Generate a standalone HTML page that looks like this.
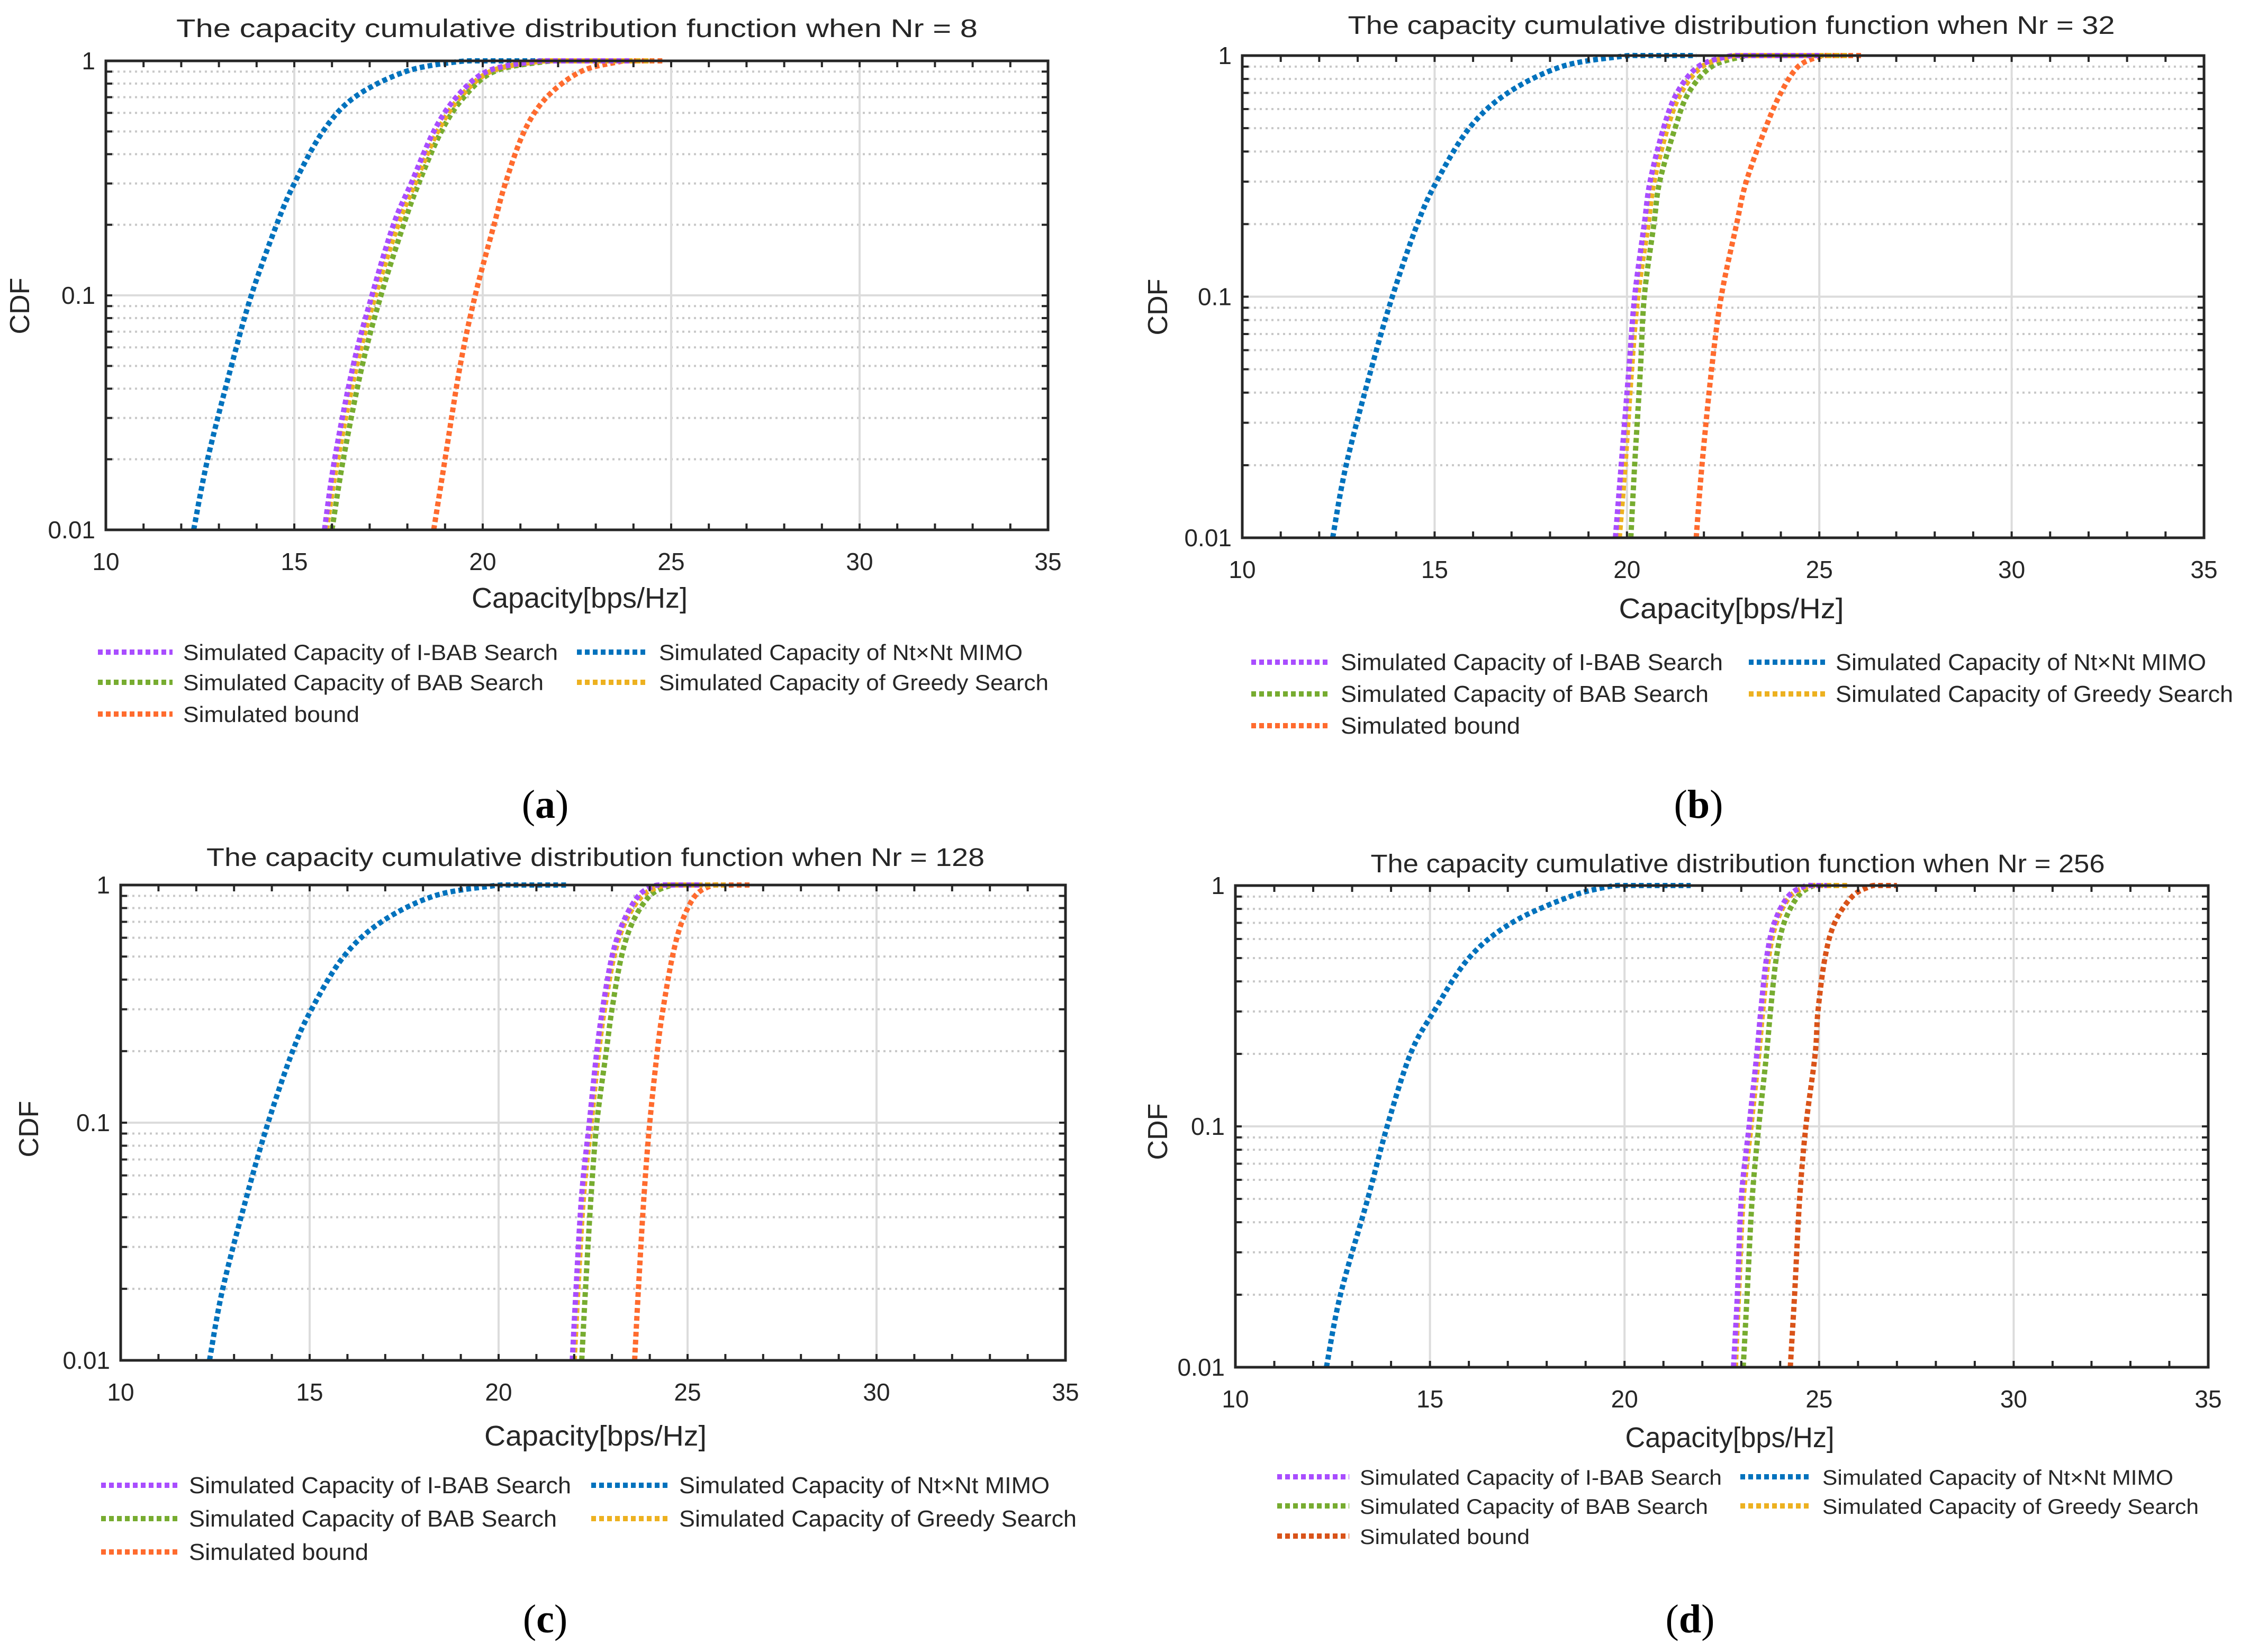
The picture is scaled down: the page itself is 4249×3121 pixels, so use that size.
<!DOCTYPE html>
<html><head><meta charset="utf-8"><style>
html,body{margin:0;padding:0;background:#fff;}
svg{display:block;}
text{font-family:"Liberation Sans",Arial,sans-serif;fill:#262626;}
.cap{font-family:"Liberation Serif",serif;fill:#000;}
</style></head><body>
<svg id="fig" width="4249" height="3121" viewBox="0 0 4249 3121" xmlns="http://www.w3.org/2000/svg"></svg>
<script>
// ---- data ----
const cdfLevels = [0.01,0.02,0.05,0.1,0.2,0.3,0.5,0.7,0.9,0.99,1];
const xTicks = [10,15,20,25,30,35];
const yTickLabels = ["0.01","0.1","1"];
const yTickValues = [0.01,0.1,1];
const seriesNames = ["Simulated Capacity of I-BAB Search","Simulated Capacity of Nt×Nt MIMO","Simulated Capacity of BAB Search","Simulated Capacity of Greedy Search","Simulated bound"];
// panel a (Nr=8)
const aBlue   = [12.33,12.7,13.33,13.86,14.53,15.0,15.76,16.6,17.95,19.3,20.0];
const aPurple = [15.8,16.07,16.56,17.06,17.63,18.1,18.7,19.3,20.1,21.3,22.0];
const aGreen  = [16.0,16.3,16.8,17.3,17.9,18.3,18.9,19.5,20.3,21.6,22.3];
const aYellow = [15.85,16.15,16.65,17.15,17.75,18.2,18.8,19.4,20.2,21.4,22.1];
const aRed    = [18.7,19.0,19.4,19.8,20.3,20.6,21.1,21.7,22.6,23.6,23.9];
const aEnds   = [23.9,22.4,23.5,24.5,24.8];
// panel b (Nr=32)
const bBlue   = [12.35,12.7,13.35,13.9,14.55,15.05,15.9,16.9,18.3,19.8,20.3];
const bPurple = [19.7,19.85,20.05,20.2,20.45,20.6,20.95,21.3,21.85,22.6,22.9];
const bGreen  = [20.1,20.2,20.35,20.45,20.7,20.85,21.25,21.6,22.2,23.0,23.3];
const bYellow = [19.8,19.95,20.12,20.28,20.55,20.7,21.05,21.4,21.95,22.7,23.0];
const bRed    = [21.8,21.95,22.2,22.45,22.85,23.1,23.6,24.0,24.45,25.0,25.3];
const bEnds   = [25.0,21.8,25.6,25.8,26.1];
// panel c (Nr=128)
const cBlue   = [12.35,12.7,13.35,13.9,14.55,15.05,15.9,16.9,18.3,19.8,20.3];
const cPurple = [21.95,22.05,22.2,22.4,22.6,22.75,23.0,23.3,23.7,24.1,24.4];
const cGreen  = [22.2,22.3,22.45,22.6,22.85,23.0,23.25,23.55,24.0,24.5,24.8];
const cYellow = [22.0,22.1,22.25,22.45,22.65,22.8,23.05,23.35,23.8,24.3,24.6];
const cRed    = [23.6,23.7,23.85,24.0,24.2,24.35,24.6,24.85,25.2,25.6,25.9];
const cEnds   = [25.4,21.8,25.6,26.0,26.7];
// panel d (Nr=256)
const dBlue   = [12.34,12.7,13.4,13.9,14.5,15.1,16.0,17.1,18.6,19.6,20.0];
const dPurple = [22.8,22.9,23.0,23.2,23.4,23.5,23.65,23.85,24.2,24.6,24.85];
const dGreen  = [23.05,23.15,23.28,23.45,23.65,23.75,23.9,24.1,24.45,24.8,25.0];
const dYellow = [22.85,22.93,23.05,23.25,23.45,23.55,23.7,23.9,24.25,24.7,24.95];
const dRed    = [24.26,24.37,24.5,24.66,24.9,24.97,25.15,25.4,25.85,26.3,26.5];
const dEnds   = [25.2,21.7,25.4,25.8,27.0];

const NS = "http://www.w3.org/2000/svg";
const svg = document.getElementById('fig');
function mk(tag, attrs, parent){
  const e = document.createElementNS(NS, tag);
  for (const k in attrs) e.setAttribute(k, attrs[k]);
  (parent||svg).appendChild(e);
  return e;
}
function smoothPath(pts){
  let d = 'M'+pts[0][0].toFixed(1)+','+pts[0][1].toFixed(1);
  for (let i=0;i<pts.length-1;i++){
    const p0 = pts[i-1]||pts[i], p1 = pts[i], p2 = pts[i+1], p3 = pts[i+2]||pts[i+1];
    const c1x = p1[0]+(p2[0]-p0[0])/6, c1y = p1[1]+(p2[1]-p0[1])/6;
    const c2x = p2[0]-(p3[0]-p1[0])/6, c2y = p2[1]-(p3[1]-p1[1])/6;
    d += 'C'+c1x.toFixed(1)+','+c1y.toFixed(1)+' '+c2x.toFixed(1)+','+c2y.toFixed(1)+' '+p2[0].toFixed(1)+','+p2[1].toFixed(1);
  }
  return d;
}
const PURPLE="#a94dff", BLUE="#0072bd", GREEN="#77ac30", YELLOW="#edb120";

const panels = [
 {id:"a", L:200,R:1980,T:115,B:1001, title:"The capacity cumulative distribution function when Nr = 8", tx:1090,ty:70,tw:1514,
  xlx:1095,xly:1148,xlw:408, cdfx:55,cdfy:578, leg:{rows:[1232,1289,1349],l1:185,t1:346,l2:1090,t2:1245,w:708,fs:42}, cap:"(a)",cx:1030,cy:1545,
  ser:[aPurple,aBlue,aGreen,aYellow,aRed], ends:aEnds, red:"#ff6b2e"},
 {id:"b", L:2347,R:4164,T:105,B:1016, title:"The capacity cumulative distribution function when Nr = 32", tx:3271,ty:64,tw:1449,
  xlx:3271,xly:1168,xlw:425, cdfx:2205,cdfy:580, leg:{rows:[1251,1311,1371],l1:2364,t1:2533,l2:3304,t2:3468,w:722,fs:44}, cap:"(b)",cx:3209,cy:1545,
  ser:[bPurple,bBlue,bGreen,bYellow,bRed], ends:bEnds, red:"#ff6b2e"},
 {id:"c", L:228,R:2013,T:1672,B:2570, title:"The capacity cumulative distribution function when Nr = 128", tx:1125,ty:1636,tw:1470,
  xlx:1125,xly:2731,xlw:420, cdfx:72,cdfy:2133, leg:{rows:[2806,2869,2932],l1:191,t1:357,l2:1117,t2:1283,w:722,fs:44}, cap:"(c)",cx:1030,cy:3084,
  ser:[cPurple,cBlue,cGreen,cYellow,cRed], ends:cEnds, red:"#ff6b2e"},
 {id:"d", L:2334,R:4172,T:1673,B:2583, title:"The capacity cumulative distribution function when Nr = 256", tx:3283,ty:1648,tw:1387,
  xlx:3268,xly:2734,xlw:395, cdfx:2205,cdfy:2138, leg:{rows:[2790,2845,2902],l1:2413,t1:2569,l2:3288,t2:3443,w:684,fs:40}, cap:"(d)",cx:3193,cy:3084,
  ser:[dPurple,dBlue,dGreen,dYellow,dRed], ends:dEnds, red:"#d95319"}
];

panels.forEach(p=>{
  const g = mk('g',{});
  
  
  const xs = v => p.L + (v-10)/25*(p.R-p.L);
  const ys = v => p.B - (Math.log10(v)+2)/2*(p.B-p.T);
  const grid = mk('g',{},g);
  
  
  for (let d=-2; d<0; d++){
    for (let m=2; m<=9; m++){
      const y = ys(m*Math.pow(10,d));
      mk('line',{x1:p.L,x2:p.R,y1:y,y2:y,stroke:"#c8c8c8","stroke-width":4,"stroke-dasharray":"4 7"},grid);
    }
  }
  const yMid = ys(0.1);
  mk('line',{x1:p.L,x2:p.R,y1:yMid,y2:yMid,stroke:"#dcdcdc","stroke-width":4},grid);
  for (let i=1;i<xTicks.length-1;i++){
    const x = xs(xTicks[i]);
    mk('line',{x1:x,x2:x,y1:p.T,y2:p.B,stroke:"#dcdcdc","stroke-width":4},grid);
  }
  const colors = [PURPLE,BLUE,GREEN,YELLOW,p.red];
  const keys = ['ibab','mimo','bab','greedy','bound'];
  const order = [1,4,2,3,0];
  order.forEach(si=>{
    const arr = p.ser[si];
    const pts = arr.map((v,i)=>[xs(v), ys(cdfLevels[i])]);
    let d = smoothPath(pts);
    d += 'L'+xs(p.ends[si]).toFixed(1)+','+ys(1).toFixed(1);
    const path = mk('path',{d:d,fill:"none",stroke:colors[si],"stroke-width":10,"stroke-dasharray":"9 6"},g);
    
    
  });
  const ax = mk('g',{},g);
  
  
  mk('rect',{x:p.L,y:p.T,width:p.R-p.L,height:p.B-p.T,fill:"none",stroke:"#262626","stroke-width":5},ax);
  for (let v=11; v<35; v++){
    const x = xs(v);
    mk('line',{x1:x,x2:x,y1:p.B,y2:p.B-12,stroke:"#262626","stroke-width":4},ax);
    mk('line',{x1:x,x2:x,y1:p.T,y2:p.T+12,stroke:"#262626","stroke-width":4},ax);
  }
  for (let d=-2; d<0; d++){
    for (let m=1; m<=9; m++){
      const y = ys(m*Math.pow(10,d));
      mk('line',{x1:p.L,x2:p.L+12,y1:y,y2:y,stroke:"#262626","stroke-width":4},ax);
      mk('line',{x1:p.R,x2:p.R-12,y1:y,y2:y,stroke:"#262626","stroke-width":4},ax);
    }
  }
  xTicks.forEach(v=>{
    const t = mk('text',{x:xs(v),y:p.B+76,"font-size":46,"text-anchor":"middle"},g);
    t.textContent = v;
    
    
  });
  yTickValues.forEach((v,i)=>{
    const t = mk('text',{x:p.L-20,y:ys(v)+16,"font-size":46,"text-anchor":"end"},g);
    t.textContent = yTickLabels[i];
    
    
  });
  const tt = mk('text',{x:p.tx,y:p.ty,"font-size":48,"text-anchor":"middle",textLength:p.tw,lengthAdjust:"spacingAndGlyphs"},g);
  tt.textContent = p.title;
  
  
  const xl = mk('text',{x:p.xlx,y:p.xly,"font-size":54,"text-anchor":"middle",textLength:p.xlw,lengthAdjust:"spacingAndGlyphs"},g);
  xl.textContent = "Capacity[bps/Hz]";
  
  
  const yl = mk('text',{x:p.cdfx,y:p.cdfy,"font-size":52,"text-anchor":"middle",transform:`rotate(-90 ${p.cdfx} ${p.cdfy})`},g);
  yl.textContent = "CDF";
  
  
  const L = p.leg;
  const lg = mk('g',{},g);
  
  
  const slots = [[L.l1,L.t1,0],[L.l2,L.t2,0],[L.l1,L.t1,1],[L.l2,L.t2,1],[L.l1,L.t1,2]];
  const ratio = [1,0.97,0.962,1.04,0.47];
  slots.forEach((s,i)=>{
    const y = L.rows[s[2]];
    const e = mk('g',{},lg);
    
    
    mk('line',{x1:s[0],x2:s[1]-20,y1:y,y2:y,stroke:colors[i],"stroke-width":10,"stroke-dasharray":"9 6"},e);
    const t = mk('text',{x:s[1],y:y+15,"font-size":L.fs,textLength:(L.w*ratio[i]).toFixed(0),lengthAdjust:"spacingAndGlyphs"},e);
    t.textContent = seriesNames[i];
  });
  const cap = mk('text',{x:p.cx,y:p.cy,"font-size":76,"text-anchor":"middle",class:"cap"},g);
  cap.innerHTML = '(<tspan font-weight="bold">'+p.id+'</tspan>)';
  
  
});
</script>
</body></html>
